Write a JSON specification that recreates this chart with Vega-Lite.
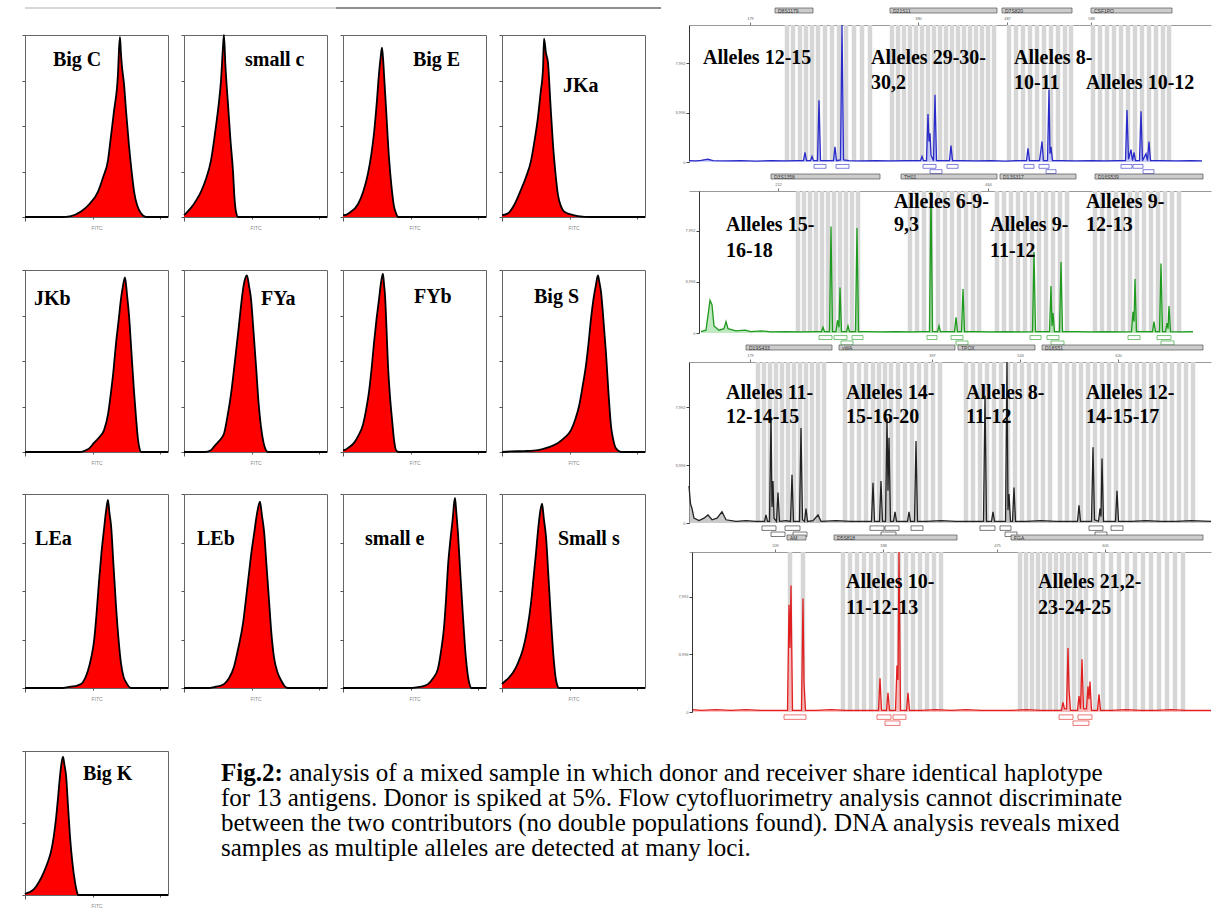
{
"$schema":"https://vega.github.io/schema/vega-lite/v6.json",
"background":"white",
"padding":{"left":20,"top":7,"right":0,"bottom":0},
"spacing":24,
"config":{"view":{"stroke":null},"axis":{"grid":false}},
"vconcat":[
{"hconcat":[
 {"vconcat":[
  {"vconcat":[
   {"width":620,"height":2,"data":{"values":[{"a":24,"b":335,"k":"#b0b0b0"},{"a":335,"b":660,"k":"#222222"}]},"mark":{"type":"rule","strokeWidth":1.2},"encoding":{"x":{"field":"a","type":"quantitative","scale":{"domain":[24,644],"nice":false,"zero":false},"axis":null},"x2":{"field":"b"},"y":{"datum":1,"type":"quantitative","scale":{"domain":[0,1]},"axis":null},"color":{"field":"k","type":"nominal","scale":null,"legend":null}}},
   {"hconcat":[
    {"width":143,"height":182,"view":{"stroke":"#666666"},"layer":[
     {"data":{"values":[{"c":0,"n":0},{"c":260,"n":0},{"c":329,"n":0.5},{"c":401,"n":3},{"c":460,"n":7},{"c":523,"n":14},{"c":560,"n":22},{"c":594,"n":31},{"c":615,"n":44},{"c":637,"n":58},{"c":666,"n":79},{"c":673,"n":92},{"c":680,"n":99},{"c":687,"n":90},{"c":694,"n":83},{"c":709,"n":73},{"c":725,"n":57},{"c":745,"n":39},{"c":765,"n":24},{"c":781,"n":14},{"c":805,"n":6},{"c":831,"n":2},{"c":866,"n":0},{"c":1024,"n":0}]},
      "mark":{"type":"area","color":"#ff0000","fillOpacity":1,"interpolate":"monotone","line":{"color":"#000000","strokeWidth":1.8}},
      "encoding":{"x":{"field":"c","type":"quantitative","scale":{"domain":[0,1024],"nice":false,"zero":false},"axis":{"values":[0,77,122,154,179,199,216,231,244,256,333,378,410,435,455,472,487,500,512,589,634,666,691,711,728,743,756,768,845,890,922,947,967,984,999,1012,1024],"labelExpr":"datum.value==256?'10¹':datum.value==512?'10²':datum.value==768?'10³':datum.value==1024?'10⁴':''","labelOverlap":false,"tickSize":{"condition":{"test":"datum.value%256==0","value":4},"value":2},"tickColor":"#555555","domain":false,"labelFontSize":5,"labelAngle":-90,"labelColor":"#666666","labelPadding":1,"title":"FITC","titleFontSize":5,"titleFontWeight":"normal","titleColor":"#888888","titlePadding":3}},
       "y":{"field":"n","type":"quantitative","scale":{"domain":[0,100],"nice":false},"axis":{"values":[0,25,50,75,100],"labels":false,"tickSize":3,"tickColor":"#555555","domain":false,"title":null}}}},
     {"data":{"values":[{"c":200,"n":86,"t":"Big C"}]},"mark":{"type":"text","align":"left","baseline":"middle","font":"Liberation Serif","fontWeight":"bold","fontSize":20,"color":"#000000"},"encoding":{"x":{"field":"c","type":"quantitative"},"y":{"field":"n","type":"quantitative"},"text":{"field":"t"}}}]},
    {"width":143,"height":182,"view":{"stroke":"#666666"},"layer":[
     {"data":{"values":[{"c":0,"n":1},{"c":14,"n":2},{"c":32,"n":3.5},{"c":50,"n":5},{"c":86,"n":9},{"c":122,"n":14},{"c":158,"n":21},{"c":193,"n":31},{"c":229,"n":50},{"c":250,"n":63},{"c":265,"n":75},{"c":278,"n":92},{"c":286,"n":100},{"c":296,"n":84},{"c":315,"n":62},{"c":333,"n":42},{"c":351,"n":25},{"c":362,"n":10},{"c":372,"n":3},{"c":387,"n":0},{"c":1024,"n":0}]},
      "mark":{"type":"area","color":"#ff0000","fillOpacity":1,"interpolate":"monotone","line":{"color":"#000000","strokeWidth":1.8}},
      "encoding":{"x":{"field":"c","type":"quantitative","scale":{"domain":[0,1024],"nice":false,"zero":false},"axis":{"values":[0,77,122,154,179,199,216,231,244,256,333,378,410,435,455,472,487,500,512,589,634,666,691,711,728,743,756,768,845,890,922,947,967,984,999,1012,1024],"labelExpr":"datum.value==256?'10¹':datum.value==512?'10²':datum.value==768?'10³':datum.value==1024?'10⁴':''","labelOverlap":false,"tickSize":{"condition":{"test":"datum.value%256==0","value":4},"value":2},"tickColor":"#555555","domain":false,"labelFontSize":5,"labelAngle":-90,"labelColor":"#666666","labelPadding":1,"title":"FITC","titleFontSize":5,"titleFontWeight":"normal","titleColor":"#888888","titlePadding":3}},
       "y":{"field":"n","type":"quantitative","scale":{"domain":[0,100],"nice":false},"axis":{"values":[0,25,50,75,100],"labels":false,"tickSize":3,"tickColor":"#555555","domain":false,"title":null}}}},
     {"data":{"values":[{"c":437,"n":86,"t":"small c"}]},"mark":{"type":"text","align":"left","baseline":"middle","font":"Liberation Serif","fontWeight":"bold","fontSize":20,"color":"#000000"},"encoding":{"x":{"field":"c","type":"quantitative"},"y":{"field":"n","type":"quantitative"},"text":{"field":"t"}}}]},
    {"width":143,"height":182,"view":{"stroke":"#666666"},"layer":[
     {"data":{"values":[{"c":0,"n":1},{"c":7,"n":1},{"c":50,"n":2.5},{"c":107,"n":7},{"c":145,"n":14},{"c":179,"n":24},{"c":202,"n":34},{"c":222,"n":46},{"c":242,"n":63},{"c":258,"n":79},{"c":270,"n":88},{"c":279,"n":93},{"c":287,"n":87},{"c":294,"n":78},{"c":308,"n":60},{"c":329,"n":33},{"c":347,"n":17},{"c":365,"n":6},{"c":380,"n":2},{"c":394,"n":0},{"c":1024,"n":0}]},
      "mark":{"type":"area","color":"#ff0000","fillOpacity":1,"interpolate":"monotone","line":{"color":"#000000","strokeWidth":1.8}},
      "encoding":{"x":{"field":"c","type":"quantitative","scale":{"domain":[0,1024],"nice":false,"zero":false},"axis":{"values":[0,77,122,154,179,199,216,231,244,256,333,378,410,435,455,472,487,500,512,589,634,666,691,711,728,743,756,768,845,890,922,947,967,984,999,1012,1024],"labelExpr":"datum.value==256?'10¹':datum.value==512?'10²':datum.value==768?'10³':datum.value==1024?'10⁴':''","labelOverlap":false,"tickSize":{"condition":{"test":"datum.value%256==0","value":4},"value":2},"tickColor":"#555555","domain":false,"labelFontSize":5,"labelAngle":-90,"labelColor":"#666666","labelPadding":1,"title":"FITC","titleFontSize":5,"titleFontWeight":"normal","titleColor":"#888888","titlePadding":3}},
       "y":{"field":"n","type":"quantitative","scale":{"domain":[0,100],"nice":false},"axis":{"values":[0,25,50,75,100],"labels":false,"tickSize":3,"tickColor":"#555555","domain":false,"title":null}}}},
     {"data":{"values":[{"c":501,"n":86,"t":"Big E"}]},"mark":{"type":"text","align":"left","baseline":"middle","font":"Liberation Serif","fontWeight":"bold","fontSize":20,"color":"#000000"},"encoding":{"x":{"field":"c","type":"quantitative"},"y":{"field":"n","type":"quantitative"},"text":{"field":"t"}}}]},
    {"width":143,"height":182,"view":{"stroke":"#666666"},"layer":[
     {"data":{"values":[{"c":0,"n":1},{"c":43,"n":2},{"c":90,"n":7},{"c":136,"n":15},{"c":172,"n":22},{"c":208,"n":31},{"c":233,"n":42},{"c":258,"n":55},{"c":276,"n":68},{"c":294,"n":82},{"c":301,"n":98},{"c":315,"n":90},{"c":329,"n":85},{"c":347,"n":62},{"c":365,"n":40},{"c":383,"n":24},{"c":401,"n":12},{"c":422,"n":6},{"c":444,"n":3},{"c":490,"n":1.5},{"c":544,"n":0.5},{"c":637,"n":0},{"c":1024,"n":0}]},
      "mark":{"type":"area","color":"#ff0000","fillOpacity":1,"interpolate":"monotone","line":{"color":"#000000","strokeWidth":1.8}},
      "encoding":{"x":{"field":"c","type":"quantitative","scale":{"domain":[0,1024],"nice":false,"zero":false},"axis":{"values":[0,77,122,154,179,199,216,231,244,256,333,378,410,435,455,472,487,500,512,589,634,666,691,711,728,743,756,768,845,890,922,947,967,984,999,1012,1024],"labelExpr":"datum.value==256?'10¹':datum.value==512?'10²':datum.value==768?'10³':datum.value==1024?'10⁴':''","labelOverlap":false,"tickSize":{"condition":{"test":"datum.value%256==0","value":4},"value":2},"tickColor":"#555555","domain":false,"labelFontSize":5,"labelAngle":-90,"labelColor":"#666666","labelPadding":1,"title":"FITC","titleFontSize":5,"titleFontWeight":"normal","titleColor":"#888888","titlePadding":3}},
       "y":{"field":"n","type":"quantitative","scale":{"domain":[0,100],"nice":false},"axis":{"values":[0,25,50,75,100],"labels":false,"tickSize":3,"tickColor":"#555555","domain":false,"title":null}}}},
     {"data":{"values":[{"c":437,"n":72,"t":"JKa"}]},"mark":{"type":"text","align":"left","baseline":"middle","font":"Liberation Serif","fontWeight":"bold","fontSize":20,"color":"#000000"},"encoding":{"x":{"field":"c","type":"quantitative"},"y":{"field":"n","type":"quantitative"},"text":{"field":"t"}}}]}
   ],"spacing":16,"bounds":"flush"}
  ],"spacing":20},
  {"vconcat":[
   {"hconcat":[
    {"width":143,"height":182,"view":{"stroke":"#666666"},"layer":[
     {"data":{"values":[{"c":0,"n":0},{"c":390,"n":0},{"c":422,"n":0.5},{"c":460,"n":2},{"c":494,"n":5},{"c":530,"n":8},{"c":566,"n":12},{"c":595,"n":21},{"c":616,"n":33},{"c":634,"n":45},{"c":652,"n":60},{"c":670,"n":72},{"c":687,"n":84},{"c":703,"n":92},{"c":716,"n":96},{"c":731,"n":86},{"c":745,"n":75},{"c":762,"n":55},{"c":781,"n":33},{"c":796,"n":18},{"c":809,"n":7},{"c":820,"n":2},{"c":831,"n":0},{"c":1024,"n":0}]},
      "mark":{"type":"area","color":"#ff0000","fillOpacity":1,"interpolate":"monotone","line":{"color":"#000000","strokeWidth":1.8}},
      "encoding":{"x":{"field":"c","type":"quantitative","scale":{"domain":[0,1024],"nice":false,"zero":false},"axis":{"values":[0,77,122,154,179,199,216,231,244,256,333,378,410,435,455,472,487,500,512,589,634,666,691,711,728,743,756,768,845,890,922,947,967,984,999,1012,1024],"labelExpr":"datum.value==256?'10¹':datum.value==512?'10²':datum.value==768?'10³':datum.value==1024?'10⁴':''","labelOverlap":false,"tickSize":{"condition":{"test":"datum.value%256==0","value":4},"value":2},"tickColor":"#555555","domain":false,"labelFontSize":5,"labelAngle":-90,"labelColor":"#666666","labelPadding":1,"title":"FITC","titleFontSize":5,"titleFontWeight":"normal","titleColor":"#888888","titlePadding":3}},
       "y":{"field":"n","type":"quantitative","scale":{"domain":[0,100],"nice":false},"axis":{"values":[0,25,50,75,100],"labels":false,"tickSize":3,"tickColor":"#555555","domain":false,"title":null}}}},
     {"data":{"values":[{"c":64,"n":84,"t":"JKb"}]},"mark":{"type":"text","align":"left","baseline":"middle","font":"Liberation Serif","fontWeight":"bold","fontSize":20,"color":"#000000"},"encoding":{"x":{"field":"c","type":"quantitative"},"y":{"field":"n","type":"quantitative"},"text":{"field":"t"}}}]},
    {"width":143,"height":182,"view":{"stroke":"#666666"},"layer":[
     {"data":{"values":[{"c":0,"n":0},{"c":150,"n":0},{"c":193,"n":1},{"c":215,"n":3},{"c":250,"n":6},{"c":286,"n":10},{"c":310,"n":19},{"c":337,"n":32},{"c":362,"n":48},{"c":387,"n":65},{"c":405,"n":78},{"c":422,"n":89},{"c":437,"n":95},{"c":451,"n":97},{"c":466,"n":91},{"c":480,"n":84},{"c":498,"n":66},{"c":516,"n":47},{"c":534,"n":27},{"c":551,"n":14},{"c":570,"n":5},{"c":587,"n":1},{"c":602,"n":0},{"c":1024,"n":0}]},
      "mark":{"type":"area","color":"#ff0000","fillOpacity":1,"interpolate":"monotone","line":{"color":"#000000","strokeWidth":1.8}},
      "encoding":{"x":{"field":"c","type":"quantitative","scale":{"domain":[0,1024],"nice":false,"zero":false},"axis":{"values":[0,77,122,154,179,199,216,231,244,256,333,378,410,435,455,472,487,500,512,589,634,666,691,711,728,743,756,768,845,890,922,947,967,984,999,1012,1024],"labelExpr":"datum.value==256?'10¹':datum.value==512?'10²':datum.value==768?'10³':datum.value==1024?'10⁴':''","labelOverlap":false,"tickSize":{"condition":{"test":"datum.value%256==0","value":4},"value":2},"tickColor":"#555555","domain":false,"labelFontSize":5,"labelAngle":-90,"labelColor":"#666666","labelPadding":1,"title":"FITC","titleFontSize":5,"titleFontWeight":"normal","titleColor":"#888888","titlePadding":3}},
       "y":{"field":"n","type":"quantitative","scale":{"domain":[0,100],"nice":false},"axis":{"values":[0,25,50,75,100],"labels":false,"tickSize":3,"tickColor":"#555555","domain":false,"title":null}}}},
     {"data":{"values":[{"c":551,"n":84,"t":"FYa"}]},"mark":{"type":"text","align":"left","baseline":"middle","font":"Liberation Serif","fontWeight":"bold","fontSize":20,"color":"#000000"},"encoding":{"x":{"field":"c","type":"quantitative"},"y":{"field":"n","type":"quantitative"},"text":{"field":"t"}}}]},
    {"width":143,"height":182,"view":{"stroke":"#666666"},"layer":[
     {"data":{"values":[{"c":0,"n":1},{"c":7,"n":1},{"c":40,"n":2.5},{"c":79,"n":5},{"c":110,"n":9},{"c":143,"n":15},{"c":165,"n":23},{"c":186,"n":33},{"c":205,"n":46},{"c":222,"n":60},{"c":240,"n":73},{"c":258,"n":84},{"c":272,"n":93},{"c":286,"n":98},{"c":294,"n":92},{"c":301,"n":86},{"c":312,"n":67},{"c":322,"n":48},{"c":337,"n":30},{"c":351,"n":18},{"c":365,"n":7},{"c":380,"n":1},{"c":400,"n":0},{"c":1024,"n":0}]},
      "mark":{"type":"area","color":"#ff0000","fillOpacity":1,"interpolate":"monotone","line":{"color":"#000000","strokeWidth":1.8}},
      "encoding":{"x":{"field":"c","type":"quantitative","scale":{"domain":[0,1024],"nice":false,"zero":false},"axis":{"values":[0,77,122,154,179,199,216,231,244,256,333,378,410,435,455,472,487,500,512,589,634,666,691,711,728,743,756,768,845,890,922,947,967,984,999,1012,1024],"labelExpr":"datum.value==256?'10¹':datum.value==512?'10²':datum.value==768?'10³':datum.value==1024?'10⁴':''","labelOverlap":false,"tickSize":{"condition":{"test":"datum.value%256==0","value":4},"value":2},"tickColor":"#555555","domain":false,"labelFontSize":5,"labelAngle":-90,"labelColor":"#666666","labelPadding":1,"title":"FITC","titleFontSize":5,"titleFontWeight":"normal","titleColor":"#888888","titlePadding":3}},
       "y":{"field":"n","type":"quantitative","scale":{"domain":[0,100],"nice":false},"axis":{"values":[0,25,50,75,100],"labels":false,"tickSize":3,"tickColor":"#555555","domain":false,"title":null}}}},
     {"data":{"values":[{"c":508,"n":85,"t":"FYb"}]},"mark":{"type":"text","align":"left","baseline":"middle","font":"Liberation Serif","fontWeight":"bold","fontSize":20,"color":"#000000"},"encoding":{"x":{"field":"c","type":"quantitative"},"y":{"field":"n","type":"quantitative"},"text":{"field":"t"}}}]},
    {"width":143,"height":182,"view":{"stroke":"#666666"},"layer":[
     {"data":{"values":[{"c":0,"n":0},{"c":64,"n":0.3},{"c":160,"n":0.5},{"c":258,"n":1},{"c":330,"n":2.5},{"c":401,"n":5},{"c":450,"n":8},{"c":494,"n":12},{"c":525,"n":18},{"c":551,"n":25},{"c":577,"n":36},{"c":602,"n":48},{"c":620,"n":60},{"c":637,"n":73},{"c":655,"n":84},{"c":673,"n":92},{"c":687,"n":97},{"c":698,"n":93},{"c":709,"n":88},{"c":727,"n":72},{"c":745,"n":54},{"c":763,"n":32},{"c":781,"n":14},{"c":799,"n":6},{"c":816,"n":2},{"c":852,"n":0},{"c":1024,"n":0}]},
      "mark":{"type":"area","color":"#ff0000","fillOpacity":1,"interpolate":"monotone","line":{"color":"#000000","strokeWidth":1.8}},
      "encoding":{"x":{"field":"c","type":"quantitative","scale":{"domain":[0,1024],"nice":false,"zero":false},"axis":{"values":[0,77,122,154,179,199,216,231,244,256,333,378,410,435,455,472,487,500,512,589,634,666,691,711,728,743,756,768,845,890,922,947,967,984,999,1012,1024],"labelExpr":"datum.value==256?'10¹':datum.value==512?'10²':datum.value==768?'10³':datum.value==1024?'10⁴':''","labelOverlap":false,"tickSize":{"condition":{"test":"datum.value%256==0","value":4},"value":2},"tickColor":"#555555","domain":false,"labelFontSize":5,"labelAngle":-90,"labelColor":"#666666","labelPadding":1,"title":"FITC","titleFontSize":5,"titleFontWeight":"normal","titleColor":"#888888","titlePadding":3}},
       "y":{"field":"n","type":"quantitative","scale":{"domain":[0,100],"nice":false},"axis":{"values":[0,25,50,75,100],"labels":false,"tickSize":3,"tickColor":"#555555","domain":false,"title":null}}}},
     {"data":{"values":[{"c":229,"n":85,"t":"Big S"}]},"mark":{"type":"text","align":"left","baseline":"middle","font":"Liberation Serif","fontWeight":"bold","fontSize":20,"color":"#000000"},"encoding":{"x":{"field":"c","type":"quantitative"},"y":{"field":"n","type":"quantitative"},"text":{"field":"t"}}}]}
   ],"spacing":16,"bounds":"flush"},
   {"hconcat":[
    {"width":143,"height":194,"view":{"stroke":"#666666"},"layer":[
     {"data":{"values":[{"c":0,"n":0},{"c":270,"n":0},{"c":308,"n":0.5},{"c":360,"n":1},{"c":401,"n":2},{"c":430,"n":5},{"c":451,"n":9},{"c":475,"n":16},{"c":494,"n":24},{"c":512,"n":38},{"c":530,"n":55},{"c":548,"n":70},{"c":566,"n":82},{"c":580,"n":91},{"c":594,"n":97},{"c":605,"n":90},{"c":616,"n":84},{"c":634,"n":63},{"c":652,"n":42},{"c":670,"n":25},{"c":687,"n":13},{"c":705,"n":6},{"c":723,"n":3},{"c":759,"n":0},{"c":1024,"n":0}]},
      "mark":{"type":"area","color":"#ff0000","fillOpacity":1,"interpolate":"monotone","line":{"color":"#000000","strokeWidth":1.8}},
      "encoding":{"x":{"field":"c","type":"quantitative","scale":{"domain":[0,1024],"nice":false,"zero":false},"axis":{"values":[0,77,122,154,179,199,216,231,244,256,333,378,410,435,455,472,487,500,512,589,634,666,691,711,728,743,756,768,845,890,922,947,967,984,999,1012,1024],"labelExpr":"datum.value==256?'10¹':datum.value==512?'10²':datum.value==768?'10³':datum.value==1024?'10⁴':''","labelOverlap":false,"tickSize":{"condition":{"test":"datum.value%256==0","value":4},"value":2},"tickColor":"#555555","domain":false,"labelFontSize":5,"labelAngle":-90,"labelColor":"#666666","labelPadding":1,"title":"FITC","titleFontSize":5,"titleFontWeight":"normal","titleColor":"#888888","titlePadding":3}},
       "y":{"field":"n","type":"quantitative","scale":{"domain":[0,100],"nice":false},"axis":{"values":[0,25,50,75,100],"labels":false,"tickSize":3,"tickColor":"#555555","domain":false,"title":null}}}},
     {"data":{"values":[{"c":72,"n":77,"t":"LEa"}]},"mark":{"type":"text","align":"left","baseline":"middle","font":"Liberation Serif","fontWeight":"bold","fontSize":20,"color":"#000000"},"encoding":{"x":{"field":"c","type":"quantitative"},"y":{"field":"n","type":"quantitative"},"text":{"field":"t"}}}]},
    {"width":143,"height":194,"view":{"stroke":"#666666"},"layer":[
     {"data":{"values":[{"c":0,"n":0},{"c":180,"n":0},{"c":215,"n":0.5},{"c":250,"n":1},{"c":286,"n":2},{"c":322,"n":5},{"c":358,"n":11},{"c":390,"n":21},{"c":422,"n":33},{"c":444,"n":46},{"c":465,"n":59},{"c":483,"n":70},{"c":501,"n":79},{"c":523,"n":90},{"c":544,"n":96},{"c":558,"n":89},{"c":573,"n":81},{"c":591,"n":63},{"c":609,"n":45},{"c":626,"n":28},{"c":644,"n":16},{"c":670,"n":8},{"c":695,"n":4},{"c":720,"n":1},{"c":745,"n":0},{"c":1024,"n":0}]},
      "mark":{"type":"area","color":"#ff0000","fillOpacity":1,"interpolate":"monotone","line":{"color":"#000000","strokeWidth":1.8}},
      "encoding":{"x":{"field":"c","type":"quantitative","scale":{"domain":[0,1024],"nice":false,"zero":false},"axis":{"values":[0,77,122,154,179,199,216,231,244,256,333,378,410,435,455,472,487,500,512,589,634,666,691,711,728,743,756,768,845,890,922,947,967,984,999,1012,1024],"labelExpr":"datum.value==256?'10¹':datum.value==512?'10²':datum.value==768?'10³':datum.value==1024?'10⁴':''","labelOverlap":false,"tickSize":{"condition":{"test":"datum.value%256==0","value":4},"value":2},"tickColor":"#555555","domain":false,"labelFontSize":5,"labelAngle":-90,"labelColor":"#666666","labelPadding":1,"title":"FITC","titleFontSize":5,"titleFontWeight":"normal","titleColor":"#888888","titlePadding":3}},
       "y":{"field":"n","type":"quantitative","scale":{"domain":[0,100],"nice":false},"axis":{"values":[0,25,50,75,100],"labels":false,"tickSize":3,"tickColor":"#555555","domain":false,"title":null}}}},
     {"data":{"values":[{"c":93,"n":77,"t":"LEb"}]},"mark":{"type":"text","align":"left","baseline":"middle","font":"Liberation Serif","fontWeight":"bold","fontSize":20,"color":"#000000"},"encoding":{"x":{"field":"c","type":"quantitative"},"y":{"field":"n","type":"quantitative"},"text":{"field":"t"}}}]},
    {"width":143,"height":194,"view":{"stroke":"#666666"},"layer":[
     {"data":{"values":[{"c":0,"n":0},{"c":480,"n":0},{"c":537,"n":0.5},{"c":575,"n":1},{"c":609,"n":2},{"c":645,"n":5},{"c":680,"n":10},{"c":702,"n":19},{"c":723,"n":31},{"c":738,"n":46},{"c":752,"n":63},{"c":770,"n":77},{"c":788,"n":89},{"c":795,"n":95},{"c":802,"n":98},{"c":812,"n":90},{"c":823,"n":80},{"c":841,"n":58},{"c":859,"n":37},{"c":877,"n":18},{"c":895,"n":6},{"c":906,"n":2},{"c":917,"n":0},{"c":1024,"n":0}]},
      "mark":{"type":"area","color":"#ff0000","fillOpacity":1,"interpolate":"monotone","line":{"color":"#000000","strokeWidth":1.8}},
      "encoding":{"x":{"field":"c","type":"quantitative","scale":{"domain":[0,1024],"nice":false,"zero":false},"axis":{"values":[0,77,122,154,179,199,216,231,244,256,333,378,410,435,455,472,487,500,512,589,634,666,691,711,728,743,756,768,845,890,922,947,967,984,999,1012,1024],"labelExpr":"datum.value==256?'10¹':datum.value==512?'10²':datum.value==768?'10³':datum.value==1024?'10⁴':''","labelOverlap":false,"tickSize":{"condition":{"test":"datum.value%256==0","value":4},"value":2},"tickColor":"#555555","domain":false,"labelFontSize":5,"labelAngle":-90,"labelColor":"#666666","labelPadding":1,"title":"FITC","titleFontSize":5,"titleFontWeight":"normal","titleColor":"#888888","titlePadding":3}},
       "y":{"field":"n","type":"quantitative","scale":{"domain":[0,100],"nice":false},"axis":{"values":[0,25,50,75,100],"labels":false,"tickSize":3,"tickColor":"#555555","domain":false,"title":null}}}},
     {"data":{"values":[{"c":158,"n":77,"t":"small e"}]},"mark":{"type":"text","align":"left","baseline":"middle","font":"Liberation Serif","fontWeight":"bold","fontSize":20,"color":"#000000"},"encoding":{"x":{"field":"c","type":"quantitative"},"y":{"field":"n","type":"quantitative"},"text":{"field":"t"}}}]},
    {"width":143,"height":194,"view":{"stroke":"#666666"},"layer":[
     {"data":{"values":[{"c":0,"n":2},{"c":14,"n":3},{"c":45,"n":5},{"c":79,"n":8},{"c":115,"n":13},{"c":150,"n":20},{"c":180,"n":30},{"c":208,"n":44},{"c":226,"n":57},{"c":244,"n":70},{"c":255,"n":79},{"c":265,"n":86},{"c":276,"n":92},{"c":287,"n":95},{"c":300,"n":87},{"c":315,"n":78},{"c":333,"n":57},{"c":351,"n":35},{"c":369,"n":16},{"c":387,"n":4},{"c":398,"n":1},{"c":408,"n":0},{"c":1024,"n":0}]},
      "mark":{"type":"area","color":"#ff0000","fillOpacity":1,"interpolate":"monotone","line":{"color":"#000000","strokeWidth":1.8}},
      "encoding":{"x":{"field":"c","type":"quantitative","scale":{"domain":[0,1024],"nice":false,"zero":false},"axis":{"values":[0,77,122,154,179,199,216,231,244,256,333,378,410,435,455,472,487,500,512,589,634,666,691,711,728,743,756,768,845,890,922,947,967,984,999,1012,1024],"labelExpr":"datum.value==256?'10¹':datum.value==512?'10²':datum.value==768?'10³':datum.value==1024?'10⁴':''","labelOverlap":false,"tickSize":{"condition":{"test":"datum.value%256==0","value":4},"value":2},"tickColor":"#555555","domain":false,"labelFontSize":5,"labelAngle":-90,"labelColor":"#666666","labelPadding":1,"title":"FITC","titleFontSize":5,"titleFontWeight":"normal","titleColor":"#888888","titlePadding":3}},
       "y":{"field":"n","type":"quantitative","scale":{"domain":[0,100],"nice":false},"axis":{"values":[0,25,50,75,100],"labels":false,"tickSize":3,"tickColor":"#555555","domain":false,"title":null}}}},
     {"data":{"values":[{"c":401,"n":77,"t":"Small s"}]},"mark":{"type":"text","align":"left","baseline":"middle","font":"Liberation Serif","fontWeight":"bold","fontSize":20,"color":"#000000"},"encoding":{"x":{"field":"c","type":"quantitative"},"y":{"field":"n","type":"quantitative"},"text":{"field":"t"}}}]}
   ],"spacing":16,"bounds":"flush"}
  ],"spacing":27}
 ],"spacing":38},
 {"vconcat":[
  {"width":522,"height":5,"data":{"values":[{"a":774,"b":812,"n":"D8S1179"},{"a":889,"b":996,"n":"D21S11"},{"a":1001,"b":1071,"n":"D7S820"},{"a":1090,"b":1171,"n":"CSF1PO"}]},"layer":[{"mark":{"type":"rect","color":"#cccccc","stroke":"#555555","strokeWidth":0.7},"encoding":{"x":{"field":"a","type":"quantitative","scale":{"domain":[688,1210],"nice":false,"zero":false},"axis":null},"x2":{"field":"b"}}},{"mark":{"type":"text","align":"left","baseline":"middle","fontSize":5,"dx":3,"color":"#333333"},"encoding":{"x":{"field":"a","type":"quantitative"},"text":{"field":"n"}}}]},
  {"width":522,"height":137,"layer":[
   {"data":{"values":[{"x":786},{"x":792},{"x":799},{"x":805},{"x":811},{"x":817},{"x":824},{"x":831},{"x":838},{"x":845},{"x":853},{"x":861},{"x":869},{"x":891},{"x":897},{"x":903},{"x":909},{"x":915},{"x":921},{"x":927},{"x":933},{"x":939},{"x":945},{"x":951},{"x":957},{"x":963},{"x":969},{"x":975},{"x":981},{"x":987},{"x":993},{"x":1008},{"x":1015},{"x":1022},{"x":1029},{"x":1036},{"x":1043},{"x":1050},{"x":1057},{"x":1064},{"x":1070},{"x":1092},{"x":1099},{"x":1106},{"x":1113},{"x":1120},{"x":1127},{"x":1134},{"x":1141},{"x":1148},{"x":1155},{"x":1162},{"x":1168}]},"mark":{"type":"rule","color":"#d6d6d6","strokeWidth":4.5},
    "encoding":{"x":{"field":"x","type":"quantitative","scale":{"domain":[688,1210],"nice":false,"zero":false},"axis":{"orient":"top","values":[749,917,1006,1090],"labelExpr":"format((datum.value-600)*1.2,'d')","labelFontSize":4,"labelColor":"#666666","tickSize":3,"tickColor":"#777777","domainColor":"#999999","title":null,"grid":false}}}},
   {"data":{"values":[{"x":688,"y":1},{"x":695,"y":0.8},{"x":700,"y":1.2},{"x":707,"y":2},{"x":712,"y":1},{"x":725,"y":0.8},{"x":740,"y":1},{"x":755,"y":0.7},{"x":770,"y":1},{"x":785,"y":0.8},{"x":795,"y":1},{"x":802.5,"y":1},{"x":804,"y":7},{"x":805.5,"y":1},{"x":809.5,"y":1},{"x":811,"y":4},{"x":812.5,"y":1},{"x":816.5,"y":1},{"x":818,"y":45},{"x":819.5,"y":1},{"x":826,"y":1},{"x":832.5,"y":1},{"x":834,"y":11},{"x":835.5,"y":1},{"x":839.5,"y":1.5},{"x":841,"y":100},{"x":842.5,"y":1.5},{"x":848,"y":1},{"x":860,"y":0.8},{"x":875,"y":1},{"x":890,"y":0.8},{"x":905,"y":1},{"x":919.5,"y":1},{"x":921,"y":4},{"x":922.5,"y":1},{"x":925.5,"y":1},{"x":927,"y":35},{"x":928,"y":15},{"x":929,"y":21},{"x":930,"y":5},{"x":932.5,"y":1},{"x":934,"y":49},{"x":935.5,"y":1},{"x":942,"y":1},{"x":948.5,"y":1},{"x":950,"y":12},{"x":951.5,"y":1},{"x":960,"y":1},{"x":975,"y":0.8},{"x":990,"y":1},{"x":1005,"y":0.7},{"x":1015,"y":1},{"x":1025.5,"y":1},{"x":1027,"y":10},{"x":1028.5,"y":1},{"x":1038.5,"y":1},{"x":1040,"y":9},{"x":1041,"y":15},{"x":1042.5,"y":1},{"x":1046.5,"y":1},{"x":1048,"y":53},{"x":1049,"y":6},{"x":1050,"y":11},{"x":1051.5,"y":1},{"x":1060,"y":1},{"x":1075,"y":0.8},{"x":1090,"y":1},{"x":1105,"y":0.8},{"x":1115,"y":1},{"x":1124.5,"y":1},{"x":1126,"y":38},{"x":1127.5,"y":2},{"x":1130,"y":9},{"x":1131.5,"y":1},{"x":1133,"y":7},{"x":1134.5,"y":1},{"x":1138.5,"y":1},{"x":1140,"y":37},{"x":1141.5,"y":1},{"x":1145,"y":6},{"x":1146.5,"y":1},{"x":1148,"y":15},{"x":1149.5,"y":1},{"x":1160,"y":1},{"x":1175,"y":0.8},{"x":1190,"y":1},{"x":1201,"y":0.8}]},
    "mark":{"type":"area","color":"#b8befa","line":{"color":"#2a2ac8","strokeWidth":1.3}},
    "encoding":{"x":{"field":"x","type":"quantitative"},"y":{"field":"y","type":"quantitative","scale":{"domain":[0,100],"nice":false},"axis":{"orient":"left","values":[0,9,18,27,36,45,54,63,72,81,90,99],"labelExpr":"format(datum.value*111,',d')","labelFontSize":4,"labelColor":"#666666","tickSize":3,"tickColor":"#444444","domainColor":"#333333","title":null,"grid":false,"labelPadding":1}}}},
   {"data":{"values":[{"a":813,"b":825,"y":-1.8,"y2":-4.6},{"a":835,"b":848,"y":-1.8,"y2":-4.6},{"a":922,"b":935,"y":-1.8,"y2":-4.6},{"a":929,"b":941,"y":-5.6,"y2":-8.4},{"a":946,"b":957,"y":-1.8,"y2":-4.6},{"a":1023,"b":1033,"y":-1.8,"y2":-4.6},{"a":1038,"b":1048,"y":-1.8,"y2":-4.6},{"a":1045,"b":1055,"y":-5.6,"y2":-8.4},{"a":1120,"b":1131,"y":-1.8,"y2":-4.6},{"a":1132,"b":1142,"y":-1.8,"y2":-4.6},{"a":1142,"b":1153,"y":-5.6,"y2":-8.4}]},"mark":{"type":"rect","fill":"#ffffff","stroke":"#2a2ac8","strokeWidth":0.6},"encoding":{"x":{"field":"a","type":"quantitative"},"x2":{"field":"b"},"y":{"field":"y","type":"quantitative"},"y2":{"field":"y2"}}},
   {"data":{"values":[{"x":702,"y":76,"t":"Alleles 12-15"},{"x":870,"y":76,"t":"Alleles 29-30-"},{"x":870,"y":58,"t":"30,2"},{"x":1013,"y":76,"t":"Alleles 8-"},{"x":1013,"y":58,"t":"10-11"},{"x":1085,"y":58,"t":"Alleles 10-12"}]},"mark":{"type":"text","align":"left","baseline":"middle","font":"Liberation Serif","fontWeight":"bold","fontSize":20,"color":"#000000"},"encoding":{"x":{"field":"x","type":"quantitative"},"y":{"field":"y","type":"quantitative"},"text":{"field":"t"}}}]},
  {"width":522,"height":5,"data":{"values":[{"a":770,"b":879,"n":"D3S1358"},{"a":900,"b":996,"n":"TH01"},{"a":999,"b":1075,"n":"D13S317"},{"a":1094,"b":1202,"n":"D16S539"}]},"layer":[{"mark":{"type":"rect","color":"#cccccc","stroke":"#555555","strokeWidth":0.7},"encoding":{"x":{"field":"a","type":"quantitative","scale":{"domain":[688,1210],"nice":false,"zero":false},"axis":null},"x2":{"field":"b"}}},{"mark":{"type":"text","align":"left","baseline":"middle","fontSize":5,"dx":3,"color":"#333333"},"encoding":{"x":{"field":"a","type":"quantitative"},"text":{"field":"n"}}}]},
  {"width":522,"height":142,"layer":[
   {"data":{"values":[{"x":797},{"x":803},{"x":809},{"x":815},{"x":821},{"x":827},{"x":833},{"x":839},{"x":845},{"x":851},{"x":857},{"x":909},{"x":916},{"x":923},{"x":930},{"x":937},{"x":944},{"x":951},{"x":958},{"x":965},{"x":972},{"x":978},{"x":996},{"x":1003},{"x":1010},{"x":1017},{"x":1024},{"x":1031},{"x":1038},{"x":1045},{"x":1052},{"x":1059},{"x":1066},{"x":1094},{"x":1101},{"x":1108},{"x":1115},{"x":1122},{"x":1129},{"x":1136},{"x":1143},{"x":1150},{"x":1157},{"x":1164},{"x":1171},{"x":1178}]},"mark":{"type":"rule","color":"#d6d6d6","strokeWidth":4.5},
    "encoding":{"x":{"field":"x","type":"quantitative","scale":{"domain":[688,1210],"nice":false,"zero":false},"axis":{"orient":"top","values":[777,987],"labelExpr":"format((datum.value-600)*1.2,'d')","labelFontSize":4,"labelColor":"#666666","tickSize":3,"tickColor":"#777777","domainColor":"#999999","title":null,"grid":false}}}},
   {"data":{"values":[{"x":700,"y":1},{"x":705,"y":2},{"x":709,"y":23},{"x":711,"y":20},{"x":713,"y":5},{"x":718,"y":2},{"x":723,"y":3},{"x":725,"y":8},{"x":727,"y":3},{"x":735,"y":1.5},{"x":744,"y":2},{"x":750,"y":1},{"x":760,"y":1.5},{"x":770,"y":0.8},{"x":785,"y":1},{"x":800,"y":0.8},{"x":815,"y":1},{"x":820.5,"y":1},{"x":822,"y":4},{"x":823.5,"y":1},{"x":828.5,"y":1},{"x":830,"y":75},{"x":831.5,"y":1},{"x":835,"y":1},{"x":836.5,"y":9},{"x":838,"y":4},{"x":839,"y":32},{"x":840.5,"y":1},{"x":845.5,"y":1},{"x":847,"y":5},{"x":848.5,"y":1},{"x":854.5,"y":1},{"x":856,"y":74},{"x":857.5,"y":1},{"x":865,"y":1},{"x":880,"y":0.8},{"x":895,"y":1},{"x":910,"y":0.8},{"x":920,"y":1},{"x":928.5,"y":1},{"x":930,"y":100},{"x":931.5,"y":1},{"x":936.5,"y":1},{"x":938,"y":5},{"x":939.5,"y":1},{"x":945,"y":1},{"x":953.5,"y":1},{"x":955,"y":11},{"x":956.5,"y":1},{"x":960.5,"y":1},{"x":962,"y":31},{"x":963.5,"y":1},{"x":975,"y":1},{"x":990,"y":0.8},{"x":1005,"y":1},{"x":1020,"y":0.8},{"x":1031.5,"y":1},{"x":1033,"y":57},{"x":1034.5,"y":1},{"x":1042,"y":1},{"x":1048.5,"y":1},{"x":1050,"y":33},{"x":1051,"y":5},{"x":1052,"y":14},{"x":1053.5,"y":1},{"x":1058.5,"y":1},{"x":1060,"y":50},{"x":1061.5,"y":1},{"x":1075,"y":1},{"x":1090,"y":0.8},{"x":1105,"y":1},{"x":1120,"y":0.8},{"x":1130.5,"y":1},{"x":1132,"y":15},{"x":1133,"y":8},{"x":1134,"y":38},{"x":1135.5,"y":1},{"x":1145,"y":1},{"x":1151.5,"y":1},{"x":1153,"y":8},{"x":1154.5,"y":1},{"x":1158.5,"y":1},{"x":1160,"y":49},{"x":1161.5,"y":1},{"x":1164.5,"y":1},{"x":1166,"y":7},{"x":1167,"y":3},{"x":1168,"y":19},{"x":1169.5,"y":1},{"x":1180,"y":0.8},{"x":1192,"y":1}]},
    "mark":{"type":"area","color":"#a6e0a6","line":{"color":"#1f9a1f","strokeWidth":1.3}},
    "encoding":{"x":{"field":"x","type":"quantitative"},"y":{"field":"y","type":"quantitative","scale":{"domain":[0,100],"nice":false},"axis":{"orient":"left","offset":-10,"values":[0,9,18,27,36,45,54,63,72,81,90,99],"labelExpr":"format(datum.value*111,',d')","labelFontSize":4,"labelColor":"#666666","tickSize":3,"tickColor":"#444444","domainColor":"#333333","title":null,"grid":false,"labelPadding":1}}}},
   {"data":{"values":[{"a":818,"b":831,"y":-1.8,"y2":-4.6},{"a":833,"b":846,"y":-1.8,"y2":-4.6},{"a":840,"b":852,"y":-5.6,"y2":-8.4},{"a":851,"b":862,"y":-1.8,"y2":-4.6},{"a":926,"b":936,"y":-1.8,"y2":-4.6},{"a":950,"b":962,"y":-1.8,"y2":-4.6},{"a":955,"b":967,"y":-5.6,"y2":-8.4},{"a":1029,"b":1040,"y":-1.8,"y2":-4.6},{"a":1046,"b":1058,"y":-1.8,"y2":-4.6},{"a":1050,"b":1063,"y":-5.6,"y2":-8.4},{"a":1127,"b":1139,"y":-1.8,"y2":-4.6},{"a":1156,"b":1170,"y":-1.8,"y2":-4.6},{"a":1160,"b":1173,"y":-5.6,"y2":-8.4}]},"mark":{"type":"rect","fill":"#ffffff","stroke":"#1f9a1f","strokeWidth":0.6},"encoding":{"x":{"field":"a","type":"quantitative"},"x2":{"field":"b"},"y":{"field":"y","type":"quantitative"},"y2":{"field":"y2"}}},
   {"data":{"values":[{"x":725,"y":76,"t":"Alleles 15-"},{"x":725,"y":58,"t":"16-18"},{"x":893,"y":92,"t":"Alleles 6-9-"},{"x":893,"y":76,"t":"9,3"},{"x":989,"y":76,"t":"Alleles 9-"},{"x":989,"y":58,"t":"11-12"},{"x":1085,"y":92,"t":"Alleles 9-"},{"x":1085,"y":76,"t":"12-13"}]},"mark":{"type":"text","align":"left","baseline":"middle","font":"Liberation Serif","fontWeight":"bold","fontSize":20,"color":"#000000"},"encoding":{"x":{"field":"x","type":"quantitative"},"y":{"field":"y","type":"quantitative"},"text":{"field":"t"}}}]},
  {"width":522,"height":5,"data":{"values":[{"a":745,"b":831,"n":"D19S433"},{"a":838,"b":954,"n":"vWA"},{"a":957,"b":1034,"n":"TPOX"},{"a":1041,"b":1202,"n":"D18S51"}]},"layer":[{"mark":{"type":"rect","color":"#cccccc","stroke":"#555555","strokeWidth":0.7},"encoding":{"x":{"field":"a","type":"quantitative","scale":{"domain":[688,1210],"nice":false,"zero":false},"axis":null},"x2":{"field":"b"}}},{"mark":{"type":"text","align":"left","baseline":"middle","fontSize":5,"dx":3,"color":"#333333"},"encoding":{"x":{"field":"a","type":"quantitative"},"text":{"field":"n"}}}]},
  {"width":522,"height":161,"layer":[
   {"data":{"values":[{"x":757},{"x":763},{"x":769},{"x":775},{"x":781},{"x":787},{"x":793},{"x":799},{"x":805},{"x":811},{"x":817},{"x":823},{"x":844},{"x":851},{"x":858},{"x":865},{"x":872},{"x":878},{"x":884},{"x":890},{"x":897},{"x":904},{"x":911},{"x":918},{"x":925},{"x":932},{"x":939},{"x":965},{"x":972},{"x":979},{"x":986},{"x":993},{"x":1000},{"x":1007},{"x":1014},{"x":1021},{"x":1028},{"x":1035},{"x":1042},{"x":1049},{"x":1059},{"x":1066},{"x":1073},{"x":1080},{"x":1087},{"x":1094},{"x":1101},{"x":1108},{"x":1115},{"x":1122},{"x":1129},{"x":1136},{"x":1143},{"x":1150},{"x":1157},{"x":1164},{"x":1171},{"x":1178},{"x":1185},{"x":1192}]},"mark":{"type":"rule","color":"#d6d6d6","strokeWidth":4.5},
    "encoding":{"x":{"field":"x","type":"quantitative","scale":{"domain":[688,1210],"nice":false,"zero":false},"axis":{"orient":"top","values":[749,931,1019,1117],"labelExpr":"format((datum.value-600)*1.2,'d')","labelFontSize":4,"labelColor":"#666666","tickSize":3,"tickColor":"#777777","domainColor":"#999999","title":null,"grid":false}}}},
   {"data":{"values":[{"x":688,"y":23},{"x":689.5,"y":12},{"x":691,"y":9},{"x":693,"y":3},{"x":698,"y":1.5},{"x":703,"y":3},{"x":707,"y":5},{"x":711,"y":2},{"x":716,"y":3},{"x":721,"y":7},{"x":725,"y":2},{"x":735,"y":1},{"x":745,"y":1.5},{"x":755,"y":1},{"x":763.5,"y":1},{"x":765,"y":5},{"x":766.5,"y":1},{"x":768.5,"y":1},{"x":770,"y":66},{"x":771,"y":10},{"x":772,"y":26},{"x":773,"y":3},{"x":775.5,"y":1},{"x":777,"y":19},{"x":778.5,"y":1},{"x":785,"y":1.5},{"x":789.5,"y":1},{"x":791,"y":30},{"x":792.5,"y":1},{"x":798.5,"y":1},{"x":800,"y":59},{"x":801.5,"y":2},{"x":803.5,"y":1},{"x":805,"y":9},{"x":806.5,"y":1},{"x":812,"y":1.5},{"x":817,"y":5},{"x":820,"y":1},{"x":835,"y":1.5},{"x":850,"y":1},{"x":865,"y":1},{"x":870.5,"y":1},{"x":872,"y":25},{"x":873.5,"y":1},{"x":878.5,"y":1},{"x":880,"y":26},{"x":881.5,"y":1},{"x":884.5,"y":1},{"x":886,"y":65},{"x":887,"y":20},{"x":888,"y":53},{"x":889.5,"y":1},{"x":892.5,"y":1},{"x":894,"y":7},{"x":895.5,"y":1},{"x":906.5,"y":1},{"x":908,"y":7},{"x":909.5,"y":1},{"x":913.5,"y":1},{"x":915,"y":51},{"x":916.5,"y":1},{"x":925,"y":1},{"x":940,"y":1.5},{"x":955,"y":1},{"x":970,"y":1},{"x":982.5,"y":1},{"x":984,"y":79},{"x":985.5,"y":1},{"x":990.5,"y":1},{"x":992,"y":7},{"x":993.5,"y":1},{"x":1004.5,"y":1},{"x":1006,"y":100},{"x":1007,"y":8},{"x":1008,"y":18},{"x":1009.5,"y":1},{"x":1011.5,"y":1},{"x":1013,"y":22},{"x":1014.5,"y":1},{"x":1025,"y":1},{"x":1040,"y":1.5},{"x":1055,"y":1},{"x":1070,"y":1},{"x":1076.5,"y":1},{"x":1078,"y":11},{"x":1079.5,"y":1},{"x":1090.5,"y":1},{"x":1092,"y":47},{"x":1093.5,"y":2},{"x":1097.5,"y":1},{"x":1099,"y":9},{"x":1100,"y":4},{"x":1101,"y":40},{"x":1102.5,"y":1},{"x":1114.5,"y":1},{"x":1116,"y":20},{"x":1117.5,"y":1},{"x":1130,"y":1},{"x":1145,"y":1.5},{"x":1160,"y":1},{"x":1175,"y":1},{"x":1190,"y":1.5},{"x":1210,"y":1}]},
    "mark":{"type":"area","color":"#b4b4b4","line":{"color":"#222222","strokeWidth":1.3}},
    "encoding":{"x":{"field":"x","type":"quantitative"},"y":{"field":"y","type":"quantitative","scale":{"domain":[0,100],"nice":false},"axis":{"orient":"left","values":[0,9,18,27,36,45,54,63,72,81,90,99],"labelExpr":"format(datum.value*111,',d')","labelFontSize":4,"labelColor":"#666666","tickSize":3,"tickColor":"#444444","domainColor":"#333333","title":null,"grid":false,"labelPadding":1}}}},
   {"data":{"values":[{"a":761,"b":775,"y":-1.8,"y2":-4.6},{"a":770,"b":784,"y":-5.6,"y2":-8.4},{"a":784,"b":799,"y":-1.8,"y2":-4.6},{"a":792,"b":806,"y":-5.6,"y2":-8.4},{"a":869,"b":883,"y":-1.8,"y2":-4.6},{"a":884,"b":898,"y":-1.8,"y2":-4.6},{"a":880,"b":895,"y":-5.6,"y2":-8.4},{"a":910,"b":922,"y":-1.8,"y2":-4.6},{"a":979,"b":994,"y":-1.8,"y2":-4.6},{"a":999,"b":1010,"y":-1.8,"y2":-4.6},{"a":1004,"b":1016,"y":-5.6,"y2":-8.4},{"a":1088,"b":1102,"y":-1.8,"y2":-4.6},{"a":1094,"b":1106,"y":-5.6,"y2":-8.4},{"a":1110,"b":1122,"y":-1.8,"y2":-4.6}]},"mark":{"type":"rect","fill":"#ffffff","stroke":"#222222","strokeWidth":0.6},"encoding":{"x":{"field":"a","type":"quantitative"},"x2":{"field":"b"},"y":{"field":"y","type":"quantitative"},"y2":{"field":"y2"}}},
   {"data":{"values":[{"x":725,"y":81,"t":"Alleles 11-"},{"x":725,"y":66,"t":"12-14-15"},{"x":845,"y":81,"t":"Alleles 14-"},{"x":845,"y":66,"t":"15-16-20"},{"x":965,"y":81,"t":"Alleles 8-"},{"x":965,"y":66,"t":"11-12"},{"x":1085,"y":81,"t":"Alleles 12-"},{"x":1085,"y":66,"t":"14-15-17"}]},"mark":{"type":"text","align":"left","baseline":"middle","font":"Liberation Serif","fontWeight":"bold","fontSize":20,"color":"#000000"},"encoding":{"x":{"field":"x","type":"quantitative"},"y":{"field":"y","type":"quantitative"},"text":{"field":"t"}}}]},
  {"width":522,"height":5,"data":{"values":[{"a":786,"b":805,"n":"AM"},{"a":833,"b":956,"n":"D5S818"},{"a":1010,"b":1202,"n":"FGA"}]},"layer":[{"mark":{"type":"rect","color":"#cccccc","stroke":"#555555","strokeWidth":0.7},"encoding":{"x":{"field":"a","type":"quantitative","scale":{"domain":[688,1210],"nice":false,"zero":false},"axis":null},"x2":{"field":"b"}}},{"mark":{"type":"text","align":"left","baseline":"middle","fontSize":5,"dx":3,"color":"#333333"},"encoding":{"x":{"field":"a","type":"quantitative"},"text":{"field":"n"}}}]},
  {"width":522,"height":160,"layer":[
   {"data":{"values":[{"x":789},{"x":802},{"x":842},{"x":849},{"x":856},{"x":863},{"x":870},{"x":877},{"x":884},{"x":891},{"x":898},{"x":905},{"x":912},{"x":919},{"x":926},{"x":933},{"x":940},{"x":1019},{"x":1025},{"x":1031},{"x":1037},{"x":1043},{"x":1049},{"x":1055},{"x":1061},{"x":1067},{"x":1073},{"x":1079},{"x":1085},{"x":1094},{"x":1102},{"x":1110},{"x":1118},{"x":1126},{"x":1134},{"x":1142},{"x":1150},{"x":1158},{"x":1166},{"x":1174},{"x":1182}]},"mark":{"type":"rule","color":"#d6d6d6","strokeWidth":4.5},
    "encoding":{"x":{"field":"x","type":"quantitative","scale":{"domain":[688,1210],"nice":false,"zero":false},"axis":{"orient":"top","values":[774,882,996,1104],"labelExpr":"format((datum.value-600)*1.2,'d')","labelFontSize":4,"labelColor":"#666666","tickSize":3,"tickColor":"#777777","domainColor":"#999999","title":null,"grid":false}}}},
   {"data":{"values":[{"x":692,"y":1.5},{"x":700,"y":1},{"x":715,"y":1.5},{"x":730,"y":1},{"x":745,"y":1.5},{"x":760,"y":1},{"x":775,"y":1},{"x":786.5,"y":1},{"x":788,"y":67},{"x":789,"y":40},{"x":790,"y":79},{"x":791.5,"y":1},{"x":800.5,"y":1},{"x":802,"y":71},{"x":803,"y":18},{"x":804.5,"y":1},{"x":815,"y":1},{"x":830,"y":1.5},{"x":845,"y":1},{"x":860,"y":1},{"x":877.5,"y":1},{"x":879,"y":21},{"x":880.5,"y":1},{"x":885.5,"y":1},{"x":887,"y":12},{"x":888.5,"y":1},{"x":894.5,"y":1},{"x":896,"y":29},{"x":897,"y":20},{"x":898,"y":100},{"x":899.5,"y":1},{"x":905.5,"y":1},{"x":907,"y":12},{"x":908.5,"y":1},{"x":920,"y":1},{"x":935,"y":1.5},{"x":950,"y":1},{"x":965,"y":1.5},{"x":980,"y":1},{"x":995,"y":1},{"x":1010,"y":1},{"x":1025,"y":1.5},{"x":1040,"y":1},{"x":1055,"y":1},{"x":1060.5,"y":1},{"x":1062,"y":6},{"x":1063.5,"y":2},{"x":1065.5,"y":2},{"x":1067,"y":40},{"x":1068,"y":14},{"x":1069.5,"y":1},{"x":1076.5,"y":1},{"x":1078,"y":10},{"x":1079.5,"y":2},{"x":1081,"y":33},{"x":1082.5,"y":2},{"x":1085.5,"y":2},{"x":1087,"y":16},{"x":1088,"y":8},{"x":1089,"y":19},{"x":1090.5,"y":1},{"x":1096.5,"y":1},{"x":1098,"y":11},{"x":1099.5,"y":1},{"x":1110,"y":1},{"x":1125,"y":1.5},{"x":1140,"y":1},{"x":1155,"y":1},{"x":1170,"y":1.5},{"x":1185,"y":1},{"x":1200,"y":1},{"x":1210,"y":1}]},
    "mark":{"type":"area","color":"#ffaaaa","line":{"color":"#e02020","strokeWidth":1.3}},
    "encoding":{"x":{"field":"x","type":"quantitative"},"y":{"field":"y","type":"quantitative","scale":{"domain":[0,100],"nice":false},"axis":{"orient":"left","offset":-3,"values":[0,9,18,27,36,45,54,63,72,81,90,99],"labelExpr":"format(datum.value*111,',d')","labelFontSize":4,"labelColor":"#666666","tickSize":3,"tickColor":"#444444","domainColor":"#333333","title":null,"grid":false,"labelPadding":1}}}},
   {"data":{"values":[{"a":783,"b":805,"y":-1.8,"y2":-4.6},{"a":876,"b":890,"y":-1.8,"y2":-4.6},{"a":892,"b":905,"y":-1.8,"y2":-4.6},{"a":884,"b":899,"y":-5.6,"y2":-8.4},{"a":1058,"b":1072,"y":-1.8,"y2":-4.6},{"a":1077,"b":1091,"y":-1.8,"y2":-4.6},{"a":1072,"b":1088,"y":-5.6,"y2":-8.4}]},"mark":{"type":"rect","fill":"#ffffff","stroke":"#e02020","strokeWidth":0.6},"encoding":{"x":{"field":"a","type":"quantitative"},"x2":{"field":"b"},"y":{"field":"y","type":"quantitative"},"y2":{"field":"y2"}}},
   {"data":{"values":[{"x":845,"y":81,"t":"Alleles 10-"},{"x":845,"y":65,"t":"11-12-13"},{"x":1037,"y":81,"t":"Alleles 21,2-"},{"x":1037,"y":65,"t":"23-24-25"}]},"mark":{"type":"text","align":"left","baseline":"middle","font":"Liberation Serif","fontWeight":"bold","fontSize":20,"color":"#000000"},"encoding":{"x":{"field":"x","type":"quantitative"},"y":{"field":"y","type":"quantitative"},"text":{"field":"t"}}}]}
 ],"spacing":12,"bounds":"flush"}
],"spacing":12},
{"hconcat":[
 {"width":143,"height":144,"view":{"stroke":"#666666"},"layer":[
  {"data":{"values":[{"c":0,"n":0.5},{"c":7,"n":1},{"c":35,"n":2},{"c":64,"n":4},{"c":100,"n":9},{"c":136,"n":16},{"c":160,"n":22},{"c":186,"n":30},{"c":205,"n":40},{"c":222,"n":53},{"c":237,"n":68},{"c":251,"n":83},{"c":262,"n":92},{"c":272,"n":96},{"c":283,"n":90},{"c":294,"n":83},{"c":308,"n":62},{"c":322,"n":41},{"c":340,"n":22},{"c":358,"n":9},{"c":370,"n":3},{"c":380,"n":0},{"c":1024,"n":0}]},
   "mark":{"type":"area","color":"#ff0000","fillOpacity":1,"interpolate":"monotone","line":{"color":"#000000","strokeWidth":1.8}},
   "encoding":{"x":{"field":"c","type":"quantitative","scale":{"domain":[0,1024],"nice":false,"zero":false},"axis":{"values":[0,77,122,154,179,199,216,231,244,256,333,378,410,435,455,472,487,500,512,589,634,666,691,711,728,743,756,768,845,890,922,947,967,984,999,1012,1024],"labelExpr":"datum.value==256?'10¹':datum.value==512?'10²':datum.value==768?'10³':datum.value==1024?'10⁴':''","labelOverlap":false,"tickSize":{"condition":{"test":"datum.value%256==0","value":4},"value":2},"tickColor":"#555555","domain":false,"labelFontSize":5,"labelAngle":-90,"labelColor":"#666666","labelPadding":1,"title":"FITC","titleFontSize":5,"titleFontWeight":"normal","titleColor":"#888888","titlePadding":3}},
    "y":{"field":"n","type":"quantitative","scale":{"domain":[0,100],"nice":false},"axis":{"values":[0,25,50,75,100],"labels":false,"tickSize":3,"tickColor":"#555555","domain":false,"title":null}}}},
  {"data":{"values":[{"c":415,"n":84,"t":"Big K"}]},"mark":{"type":"text","align":"left","baseline":"middle","font":"Liberation Serif","fontWeight":"bold","fontSize":20,"color":"#000000"},"encoding":{"x":{"field":"c","type":"quantitative"},"y":{"field":"n","type":"quantitative"},"text":{"field":"t"}}}]},
 {"width":990,"height":110,"data":{"values":[{"k":"b","l":1,"t":"Fig.2:"},{"k":"r","l":1,"t":"analysis of a mixed sample in which donor and receiver share identical haplotype"},{"k":"n","l":2,"t":"for 13 antigens. Donor is spiked at 5%. Flow cytofluorimetry analysis cannot discriminate"},{"k":"n","l":3,"t":"between the two contributors (no double populations found). DNA analysis reveals mixed"},{"k":"n","l":4,"t":"samples as multiple alleles are detected at many loci."}]},
  "layer":[
   {"transform":[{"filter":"datum.k==='b'"}],"mark":{"type":"text","align":"left","baseline":"middle","font":"Liberation Serif","fontWeight":"bold","fontSize":25,"color":"#000000"},"encoding":{"x":{"datum":0,"type":"quantitative","scale":{"domain":[0,1]},"axis":null},"y":{"field":"l","type":"quantitative","scale":{"domain":[4.54,0.14],"nice":false,"zero":false},"axis":null},"text":{"field":"t"}}},
   {"transform":[{"filter":"datum.k==='r'"}],"mark":{"type":"text","align":"left","baseline":"middle","font":"Liberation Serif","fontSize":25,"dx":68,"color":"#000000"},"encoding":{"x":{"datum":0,"type":"quantitative"},"y":{"field":"l","type":"quantitative"},"text":{"field":"t"}}},
   {"transform":[{"filter":"datum.k==='n'"}],"mark":{"type":"text","align":"left","baseline":"middle","font":"Liberation Serif","fontSize":25,"color":"#000000"},"encoding":{"x":{"datum":0,"type":"quantitative"},"y":{"field":"l","type":"quantitative"},"text":{"field":"t"}}}]}
],"spacing":48}
]
}
